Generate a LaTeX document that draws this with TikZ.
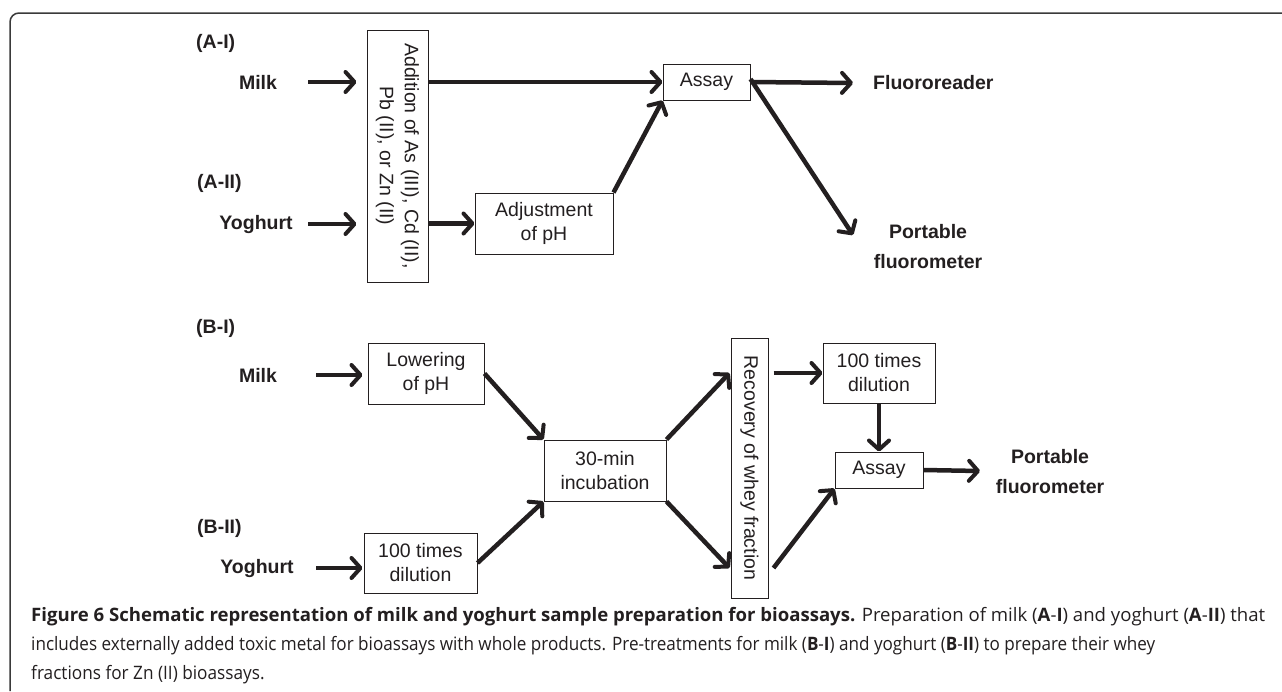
\documentclass[tikz,border=0pt]{standalone}
\usepackage{fontspec}
\usepackage{graphicx}
\setmainfont{Liberation Sans}
\newfontfamily\capfont{Open Sans}
\usetikzlibrary{arrows.meta}
\definecolor{ink}{HTML}{231F20}
\definecolor{framec}{HTML}{3A3A3A}
\newcommand{\capsize}{\fontsize{18.5pt}{29pt}\selectfont}
\begin{document}
\begin{tikzpicture}[x=1pt,y=-1pt,
  box/.style={draw=ink, line width=1pt, fill=white, inner sep=0pt, align=center,
              font=\fontsize{19.5}{24}\selectfont, text=ink},
  lbl/.style={font=\bfseries\fontsize{19.5}{30}\selectfont, text=ink, inner sep=0pt, align=center},
  flow/.style={draw=ink, line width=4.5pt,
               -{Straight Barb[length=9pt, width=20pt, line width=4pt, round]}},
  capline/.style={anchor=base west, inner sep=0pt, text=ink}
  ]
\useasboundingbox (0,0) rectangle (1282,691);
\fill[white] (0,0) rectangle (1282,691);
% frame
\draw[framec, line width=1.5pt, rounded corners=9pt] (10,691) -- (10,13) -- (1282,13);

% ---------- part A ----------
\node[lbl, anchor=west] (AI) at (196,43) {(A-I)};
\node[lbl] (milkA) at (258,82) {Milk};
\node[lbl, anchor=west] (AII) at (197,183) {(A-II)};
\node[lbl] (yogA) at (256,224) {Yoghurt};

\node[box, minimum width=61pt, minimum height=252pt] (addbox) at (397.5,156) {};
\node[rotate=-90, inner sep=0pt, align=center, text=ink, font=\fontsize{19.5}{25}\selectfont]
  (addtxt) at (addbox.center) {Addition of As (III), Cd (II),\\Pb (II), or Zn (II)};

\node[box, minimum width=87pt, minimum height=36pt] (assayA) at (706.5,82) {Assay};
\node[box, minimum width=138pt, minimum height=61pt] (adjbox) at (544,223.5) {Adjustment\\of pH};
\node[lbl, anchor=west] (fluor) at (873,83) {Fluororeader};
\node[lbl] (portA) at (928,247) {Portable\\fluorometer};

\coordinate (mA) at (308,82);
\coordinate (yA) at (308,224);
\coordinate (pAend) at (853,235);

\draw[flow] (mA) -- ([xshift=-10pt]addbox.west |- mA);
\draw[flow] (yA) -- ([xshift=-10pt]addbox.west |- yA);
\draw[flow] (addbox.east |- assayA.west) -- (assayA.west);
\draw[flow] (addbox.east |- adjbox.west) -- (adjbox.west);
\draw[flow] (adjbox.north east) -- (assayA.south west);
\draw[flow] (assayA.east) -- ([xshift=-20pt]fluor.west);
\draw[flow] ([yshift=3pt]assayA.east) -- (pAend);

% ---------- part B ----------
\node[lbl, anchor=west] (BI) at (196,328) {(B-I)};
\node[lbl] (milkB) at (258,375) {Milk};
\node[lbl, anchor=west] (BII) at (197,528) {(B-II)};
\node[lbl] (yogB) at (257,568) {Yoghurt};

\node[box, minimum width=116pt, minimum height=61pt] (lower) at (426,373.5) {Lowering\\of pH};
\node[box, minimum width=122pt, minimum height=61pt] (incub) at (605,470.5) {30-min\\incubation};
\node[box, minimum width=113pt, minimum height=60pt] (dilB) at (420.5,563) {100 times\\dilution};
\node[box, minimum width=37pt, minimum height=260pt] (recov) at (749.5,468) {};
\node[rotate=-90, inner sep=0pt, text=ink, font=\fontsize{19.5}{24}\selectfont]
  (recovtxt) at (recov.center) {Recovery of whey fraction};
\node[box, minimum width=112pt, minimum height=60pt] (dilT) at (879,373) {100 times\\dilution};
\node[box, minimum width=88pt, minimum height=36pt] (assayB) at (879,470) {Assay};
\node[lbl] (portB) at (1050,472) {Portable\\fluorometer};

\coordinate (mB) at (316,375);
\coordinate (yB) at (316,568);
\coordinate (pBend) at (980,471);

\draw[flow] (mB) -- ([xshift=-5pt]lower.west |- mB);
\draw[flow] (lower.east) -- (incub.north west);
\draw[flow] (yB) -- ([xshift=-1pt]dilB.west |- yB);
\draw[flow] (dilB.east) -- (incub.south west);
\draw[flow] (incub.north east) -- ([xshift=-1pt]recov.west |- dilT.west);
\draw[flow] (incub.south east) -- ([xshift=-1pt]recov.west |- yB);
\draw[flow] ([xshift=5pt]recov.east |- dilT.west) -- (dilT.west);
\draw[flow] (dilT.south) -- (assayB.north);
\draw[flow] (assayB.east) -- (pBend);
\draw[flow] ([xshift=5pt]recov.east |- yB) -- (assayB.south west);

% ---------- caption ----------
\node[capline] (cap1) at (31,621) {\capfont\capsize\resizebox{1234pt}{\height}{\textbf{Figure 6 Schematic representation of milk and yoghurt sample preparation for bioassays.} Preparation of milk (\textbf{A}-\textbf{I}) and yoghurt (\textbf{A}-\textbf{II}) that}};
\node[capline] (cap2) at (31,650) {\capfont\capsize\resizebox{1124pt}{\height}{includes externally added toxic metal for bioassays with whole products. Pre-treatments for milk (\textbf{B}-\textbf{I}) and yoghurt (\textbf{B}-\textbf{II}) to prepare their whey}};
\node[capline] (cap3) at (31,679) {\capfont\capsize\scalebox{0.93}[1]{fractions for Zn (II) bioassays.}};
\end{tikzpicture}
\end{document}
